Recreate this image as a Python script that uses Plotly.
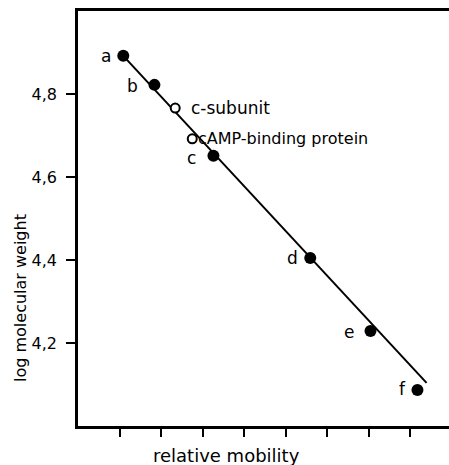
import plotly.graph_objects as go

# Data (relative mobility units, log MW)
std_labels = ["a", "b", "c", "d", "e", "f"]
std_x = [1.09, 1.84, 3.26, 5.59, 7.04, 8.17]
std_y = [4.892, 4.822, 4.651, 4.405, 4.229, 4.087]

sample_labels = ["c-subunit", "cAMP-binding protein"]
sample_x = [2.34, 2.75]
sample_y = [4.766, 4.692]

fit_x = [1.09, 8.39]
fit_y = [4.892, 4.104]

y_tickvals = [4.2, 4.4, 4.6, 4.8]
y_ticktext = ["4,2", "4,4", "4,6", "4,8"]
x_tickvals = [1, 2, 3, 4, 5, 6, 7, 8]

FONT = "DejaVu Sans, Liberation Sans, sans-serif"
W, H = 449, 465
ML, MR, MT, MB = 78, 0, 11, 39

fig = go.Figure()
fig.add_trace(go.Scatter(x=fit_x, y=fit_y, mode="lines",
                         line=dict(color="black", width=2), showlegend=False))
fig.add_trace(go.Scatter(x=std_x, y=std_y, mode="markers",
                         marker=dict(size=12, color="black"), showlegend=False))
fig.add_trace(go.Scatter(x=sample_x, y=sample_y, mode="markers",
                         marker=dict(size=9, color="white",
                                     line=dict(color="black", width=2)),
                         showlegend=False))

# label offsets (pixels) for standard letters
std_dx = [-17, -22, -22, -18, -21, -15]
std_dy = [0, -1, -2, 0, -1, 1]
for lab, x, y, dx, dy in zip(std_labels, std_x, std_y, std_dx, std_dy):
    fig.add_annotation(x=x, y=y, text=lab, showarrow=False, xanchor="center",
                       yanchor="middle", xshift=dx, yshift=dy,
                       font=dict(family=FONT, size=17, color="black"))

sample_dx = [14, 4]
sample_size = [17, 16]
for lab, x, y, dx, fs in zip(sample_labels, sample_x, sample_y, sample_dx, sample_size):
    fig.add_annotation(x=x, y=y, text=lab, showarrow=False, xanchor="left",
                       yanchor="middle", xshift=dx, yshift=0,
                       font=dict(family=FONT, size=fs, color="black"))

pw, ph = W - ML - MR, H - MT - MB
fig.add_annotation(x=(226 - ML) / pw, y=(H - MB - 455) / ph, xref="paper", yref="paper",
                   text="relative mobility", showarrow=False, xanchor="center", yanchor="middle",
                   font=dict(family=FONT, size=18, color="black"))
fig.add_annotation(x=(20 - ML) / pw, y=(H - MB - 298) / ph, xref="paper", yref="paper",
                   text="log molecular weight", showarrow=False, textangle=-90,
                   xanchor="center", yanchor="middle",
                   font=dict(family=FONT, size=16, color="black"))

fig.update_layout(
    width=W, height=H,
    margin=dict(l=ML, r=MR, t=MT, b=MB, autoexpand=False),
    paper_bgcolor="white", plot_bgcolor="white",
    font=dict(family=FONT, size=16, color="black"),
    xaxis=dict(range=[0, 8.93], showgrid=False, zeroline=False,
               showline=True, linecolor="black", linewidth=2.5, mirror=True,
               ticks="outside", ticklen=8, tickwidth=1.5, tickcolor="black",
               tickvals=x_tickvals, showticklabels=False),
    yaxis=dict(range=[4.0, 5.0], showgrid=False, zeroline=False,
               showline=True, linecolor="black", linewidth=2.5,
               ticks="outside", ticklen=9, tickwidth=1.5, tickcolor="black",
               tickvals=y_tickvals, ticktext=y_ticktext, ticklabelstandoff=6,
               tickfont=dict(family=FONT, size=16, color="black")),
)

fig.write_html("out.html", config={"displayModeBar": False},
               post_script="document.body.style.margin='0';document.body.style.padding='0';"
                           "document.body.style.overflow='hidden';")
